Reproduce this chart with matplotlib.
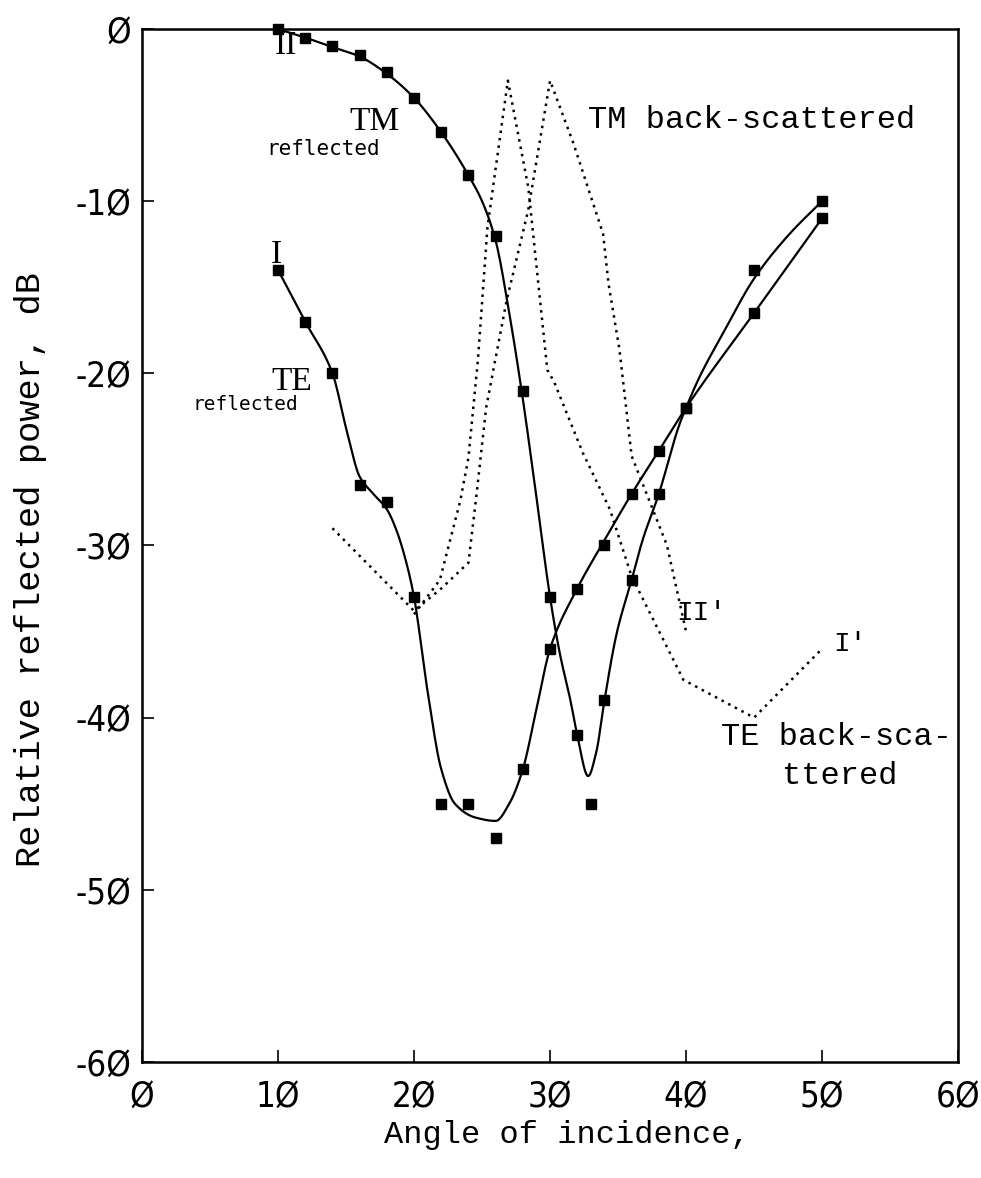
import numpy as np
import matplotlib
matplotlib.use('Agg')
import matplotlib.pyplot as plt
from matplotlib import font_manager

# measured points (squares)
te_x = [10, 12, 14, 16, 18, 20, 22, 24, 26, 28, 30, 32, 34, 36, 38, 40, 45, 50]
te_y = [-14, -17, -20, -26.5, -27.5, -33, -45, -45, -47, -43, -36, -32.5, -30, -27, -24.5, -22, -16.5, -11]
tm_x = [10, 12, 14, 16, 18, 20, 22, 24, 26, 28, 30, 32, 33, 34, 36, 38, 40, 45, 50]
tm_y = [0, -0.5, -1, -1.5, -2.5, -4, -6, -8.5, -12, -21, -33, -41, -45, -39, -32, -27, -22, -14, -10]

# hand-drawn smooth curves through the data
te_fit_x = [10, 12, 14, 15.1, 16, 17, 18, 18.7, 19.5, 20, 21, 22, 23, 24.5, 26, 27, 28, 29, 30,
            32, 34, 36, 38, 40, 45, 50]
te_fit_y = [-14, -17, -20, -23.5, -26, -27, -27.9, -29.1, -31.2, -33, -38.5, -43, -45, -45.8, -46, -45,
            -43, -39.5, -36, -32.5, -29.7, -27, -24.5, -22, -16.5, -11]
tm_fit_x = [10, 12, 14, 16, 18, 20, 22, 24, 25, 26, 27, 28, 29, 30, 30.7, 31.5, 32, 32.8, 33.4, 34,
            34.9, 36, 36.8, 38, 39.5, 40, 41, 42.7, 45, 47.5, 50]
tm_fit_y = [0, -0.5, -1.05, -1.6, -2.6, -4, -6, -8.5, -10, -12.3, -16.5, -21.5, -27.2, -33, -36.2, -39,
            -41, -43.4, -42, -39, -35.1, -32, -29.7, -27, -23, -22, -20.2, -17.7, -14.5, -12, -10]

# back-scattered (dotted)
tmb_x = [14, 20, 22, 24, 24.6, 25.3, 26.8, 28.4, 30, 31.7, 33.9, 34.3, 35.1, 36, 38.6, 40]
tmb_y = [-29, -33.8, -32.5, -31, -27, -22, -15.8, -10.5, -3, -6.6, -11.9, -14.8, -18.6, -24.8, -30, -35]
teb_x = [20, 21.9, 23.4, 24, 24.7, 25.4, 26.9, 28.4, 29.8, 30.3, 32.4, 34.4, 36, 39.8, 45, 50]
teb_y = [-34, -32, -27.4, -24.9, -19.2, -11.5, -3, -9.2, -19.8, -20.5, -24.6, -27.9, -31.8, -37.8, -40, -36]

xticks = [0, 10, 20, 30, 40, 50, 60]
xtick_labels = ['Ø', '1Ø', '2Ø', '3Ø', '4Ø', '5Ø', '6Ø']
yticks = [-60, -50, -40, -30, -20, -10, 0]
ytick_labels = ['-6Ø', '-5Ø', '-4Ø', '-3Ø', '-2Ø', '-1Ø', 'Ø']


def pchip(x, y, n=400):
    x = np.asarray(x, float)
    y = np.asarray(y, float)
    h = np.diff(x)
    d = np.diff(y) / h
    m = np.zeros_like(x)
    m[0], m[-1] = d[0], d[-1]
    for k in range(1, len(x) - 1):
        if d[k - 1] * d[k] > 0:
            w1 = 2 * h[k] + h[k - 1]
            w2 = h[k] + 2 * h[k - 1]
            m[k] = (w1 + w2) / (w1 / d[k - 1] + w2 / d[k])
    xs = np.linspace(x[0], x[-1], n)
    i = np.clip(np.searchsorted(x, xs) - 1, 0, len(x) - 2)
    t = (xs - x[i]) / h[i]
    h00 = 2 * t**3 - 3 * t**2 + 1
    h10 = t**3 - 2 * t**2 + t
    h01 = -2 * t**3 + 3 * t**2
    h11 = t**3 - t**2
    ys = h00 * y[i] + h10 * h[i] * m[i] + h01 * y[i + 1] + h11 * h[i] * m[i + 1]
    return xs, ys


names = {f.name for f in font_manager.fontManager.ttflist}
tick_font = 'Liberation Sans Narrow' if 'Liberation Sans Narrow' in names else 'DejaVu Sans'
mono = 'Liberation Mono'
serif = 'Liberation Serif'

fig = plt.figure(figsize=(9.81, 11.78), dpi=100)
ax = fig.add_axes([0.1448, 0.0985, 0.8318, 0.8769])

xs, ys = pchip(te_fit_x, te_fit_y)
ax.plot(xs, ys, color='k', lw=1.6)
xs, ys = pchip(tm_fit_x, tm_fit_y)
ax.plot(xs, ys, color='k', lw=1.6)

ax.plot(te_x, te_y, ls='none', marker='s', ms=6.5, color='k', clip_on=False, zorder=5)
ax.plot(tm_x, tm_y, ls='none', marker='s', ms=6.5, color='k', clip_on=False, zorder=5)

ax.plot(tmb_x, tmb_y, color='k', lw=1.8, ls=(0, (1, 2)))
ax.plot(teb_x, teb_y, color='k', lw=1.8, ls=(0, (1, 2)))

ax.set_xlim(0, 60)
ax.set_ylim(-60, 0)
ax.set_xticks(xticks)
ax.set_xticklabels(xtick_labels, fontsize=25, family=tick_font, fontstretch='condensed')
ax.set_yticks(yticks)
ax.set_yticklabels(ytick_labels, fontsize=25, family=tick_font, fontstretch='condensed')
ax.tick_params(axis='x', direction='in', length=8.5, width=1.2, pad=13)
ax.tick_params(axis='y', direction='in', length=8.5, width=1.2, pad=8)
plt.setp(ax.spines.values(), linewidth=1.8)

ax.set_xlabel('Angle of incidence,', fontsize=23, family=mono, va='center')
ax.xaxis.set_label_coords(0.521, -0.071)
ax.set_ylabel('Relative reflected power, dB', fontsize=25.5, family=mono, va='center')
ax.yaxis.set_label_coords(-0.137, 0.477)

ax.text(10.6, -1.0, 'II', fontsize=24, family=serif, ha='center', va='center')
ax.text(9.9, -13.1, 'I', fontsize=24, family=serif, ha='center', va='center')
ax.text(17.1, -5.4, 'TM', fontsize=24, family=serif, ha='center', va='center')
ax.text(13.3, -7.0, 'reflected', fontsize=15, family='DejaVu Sans Mono', ha='center', va='center')
ax.text(11.0, -20.5, 'TE', fontsize=24, family=serif, ha='center', va='center')
ax.text(7.6, -21.8, 'reflected', fontsize=14, family='DejaVu Sans Mono', ha='center', va='center')
ax.text(32.8, -5.3, 'TM back-scattered', fontsize=23, family=mono, ha='left', va='center')
ax.text(39.3, -33.9, "II'", fontsize=20, family=mono, ha='left', va='center')
ax.text(50.8, -35.7, "I'", fontsize=20, family=mono, ha='left', va='center')
ax.text(42.6, -41.1, 'TE back-sca-', fontsize=23, family=mono, ha='left', va='center')
ax.text(47.05, -43.4, 'ttered', fontsize=23, family=mono, ha='left', va='center')

plt.savefig('out.png', dpi=100)
